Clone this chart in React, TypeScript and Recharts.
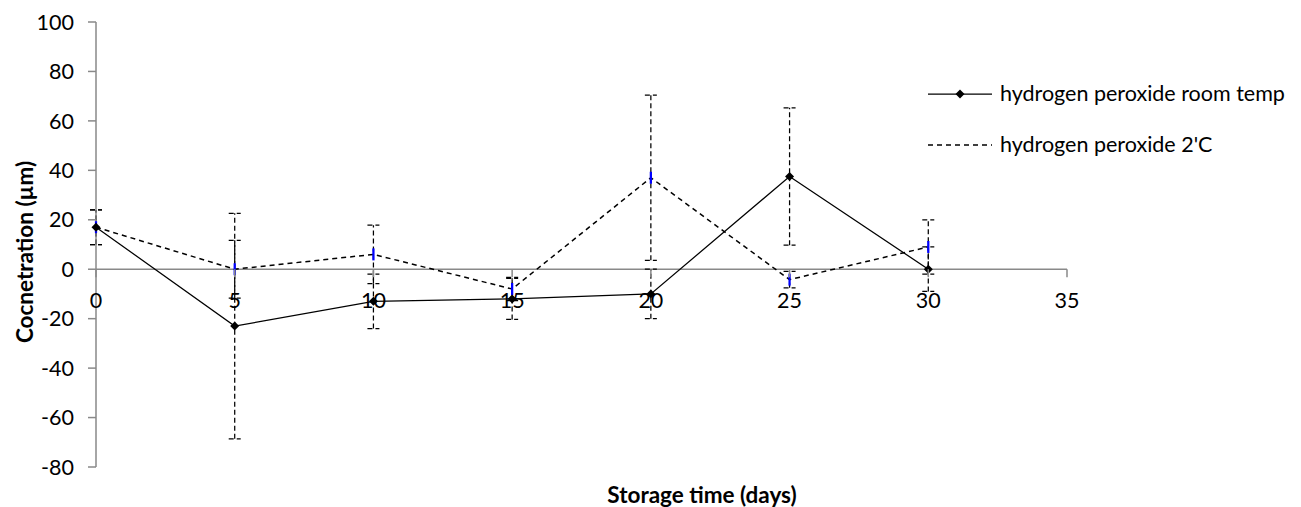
import React from "react";
import { ErrorBar, Legend, Line, LineChart, ReferenceLine, XAxis, YAxis } from "recharts";

// values
const DAYS = [0, 5, 10, 15, 20, 25, 30];
const ROOM_TEMP = [17, -23, -13, -12, -10, 37.5, 0];
const ROOM_TEMP_ERR = [7, 45.6, 11, 8.3, 10, 27.8, 9];
const COLD = [17, 0, 6, -8, 37, -4.2, 9];
const COLD_ERR = [7, 11.7, 11.8, 4.7, 33.4, 3.3, 11];

const X_TICKS = [0, 5, 10, 15, 20, 25, 30, 35];
const Y_TICKS = [-80, -60, -40, -20, 0, 20, 40, 60, 80, 100];
const SERIES_NAMES = ["hydrogen peroxide room temp", "hydrogen peroxide 2'C"];

const data = DAYS.map((day, i) => ({
  day,
  room: ROOM_TEMP[i],
  roomErr: ROOM_TEMP_ERR[i],
  cold: COLD[i],
  coldErr: COLD_ERR[i],
}));

// layout
const W = 1285;
const H = 499;
const M_TOP = 14;
const M_RIGHT = 226;
const Y_AXIS_W = 88;
const X_AXIS_H = 40;
const Y_MIN = -80;
const Y_MAX = 100;
const PLOT_H = H - M_TOP - X_AXIS_H;
// x axis crosses at y = 0
const ZERO_Y = M_TOP + (PLOT_H * Y_MAX) / (Y_MAX - Y_MIN);

const FONT = "Lato, 'Open Sans', sans-serif";
const FS = 21.5;
const FS_TITLE = 22.5;
const AXIS = "#898989";

function XTick(props: any) {
  const { x, payload } = props;
  return (
    <g>
      <line x1={x} x2={x} y1={ZERO_Y} y2={ZERO_Y + 8} stroke={AXIS} strokeWidth={1.5} />
      <text x={x} y={ZERO_Y + 39} textAnchor="middle" fontFamily={FONT} fontSize={FS} fill="#000">
        {payload.value}
      </text>
    </g>
  );
}

function Diamond(props: any) {
  const { cx, cy, index } = props;
  if (cx == null || cy == null) return null;
  const r = 4.5;
  return (
    <polygon
      key={`d-${index}`}
      points={`${cx},${cy - r} ${cx + r},${cy} ${cx},${cy + r} ${cx - r},${cy}`}
      fill="#000"
    />
  );
}

function BlueDash(props: any) {
  const { cx, cy, index } = props;
  if (cx == null || cy == null) return null;
  return <line key={`b-${index}`} x1={cx} x2={cx} y1={cy - 6} y2={cy + 6} stroke="#0000ff" strokeWidth={2.25} />;
}

function YTitle() {
  const x = 25;
  const y = 244;
  return (
    <text
      x={x}
      y={y}
      transform={`rotate(-90 ${x} ${y})`}
      textAnchor="middle"
      fontFamily={FONT}
      fontSize={FS_TITLE}
      fontWeight="bold"
      fill="#000"
    >
      Cocnetration (µm)
    </text>
  );
}

function XTitle() {
  return (
    <text x={694} y={495} textAnchor="middle" fontFamily={FONT} fontSize={FS_TITLE} fontWeight="bold" fill="#000">
      Storage time (days)
    </text>
  );
}

function LegendBox(props: any) {
  const items = (props.payload || [])
    .filter((p: any) => p.type !== "none")
    .slice()
    .sort((a: any, b: any) => SERIES_NAMES.indexOf(a.value) - SERIES_NAMES.indexOf(b.value));
  return (
    <svg width={370} height={100}>
      {items.map((entry: any, i: number) => {
        const y = 26 + i * 51;
        const dashed = !!entry.payload?.strokeDasharray;
        return (
          <g key={entry.value}>
            <line
              x1={0}
              x2={64}
              y1={y}
              y2={y}
              stroke="#000"
              strokeWidth={dashed ? 1.5 : 1.25}
              strokeDasharray={dashed ? "5 4" : undefined}
            />
            {!dashed && <Diamond cx={32} cy={y} index={i} />}
            <text x={72} y={y + 7} fontFamily={FONT} fontSize={FS} fill="#000">
              {entry.value}
            </text>
          </g>
        );
      })}
    </svg>
  );
}

export default function App() {
  return (
    <div style={{ width: W, height: H }}>
      <LineChart width={W} height={H} data={data} margin={{ top: M_TOP, right: M_RIGHT, bottom: 0, left: 0 }}>
        <XAxis
          type="number"
          dataKey="day"
          domain={[0, 35]}
          ticks={X_TICKS}
          interval={0}
          axisLine={false}
          tickLine={false}
          tick={<XTick />}
          height={X_AXIS_H}
          label={<XTitle />}
        />
        <YAxis
          type="number"
          domain={[Y_MIN, Y_MAX]}
          ticks={Y_TICKS}
          interval={0}
          width={Y_AXIS_W}
          axisLine={{ stroke: AXIS, strokeWidth: 1.5 }}
          tickLine={{ stroke: AXIS, strokeWidth: 1.5 }}
          tickSize={8}
          tickMargin={14}
          tick={{ fontFamily: FONT, fontSize: FS, fill: "#000" }}
          label={<YTitle />}
        />
        <ReferenceLine y={0} stroke={AXIS} strokeWidth={1.5} />
        <Legend
          layout="vertical"
          align="center"
          verticalAlign="middle"
          content={<LegendBox />}
          wrapperStyle={{ left: 920, top: 60, width: 370 }}
        />
        <Line
          name={SERIES_NAMES[1]}
          dataKey="cold"
          type="linear"
          stroke="#000"
          strokeWidth={1.5}
          strokeDasharray="5 4"
          dot={<BlueDash />}
          activeDot={false}
          isAnimationActive={false}
        >
          <ErrorBar dataKey="coldErr" direction="y" width={6} stroke="#000" strokeWidth={1.25} strokeDasharray="5 3" isAnimationActive={false} />
        </Line>
        <Line
          name={SERIES_NAMES[0]}
          dataKey="room"
          type="linear"
          stroke="#000"
          strokeWidth={1.25}
          dot={<Diamond />}
          activeDot={false}
          isAnimationActive={false}
        >
          <ErrorBar dataKey="roomErr" direction="y" width={6} stroke="#000" strokeWidth={1.25} strokeDasharray="5 3" isAnimationActive={false} />
        </Line>
      </LineChart>
    </div>
  );
}
